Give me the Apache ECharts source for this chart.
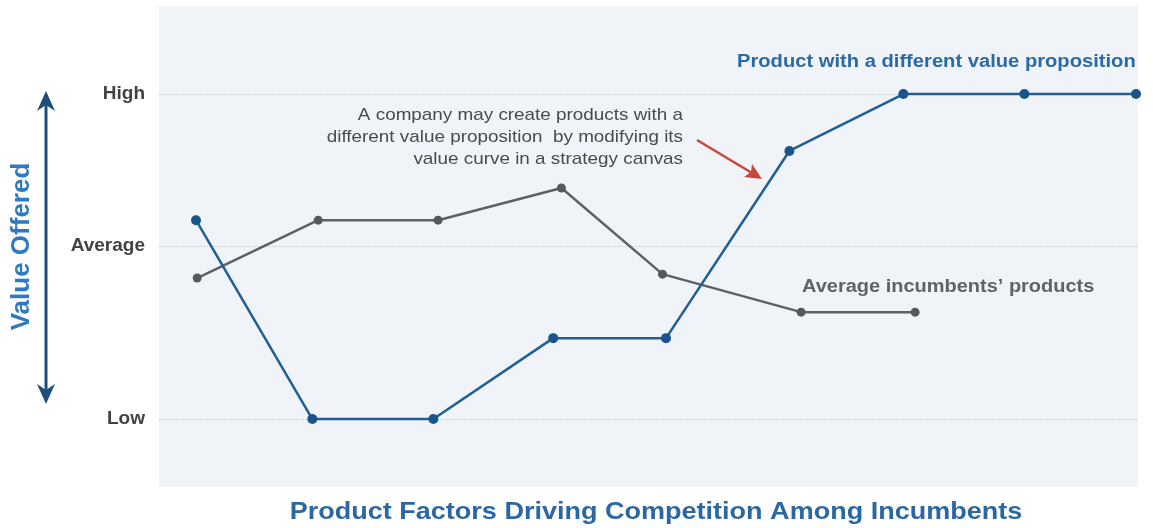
<!DOCTYPE html>
<html>
<head>
<meta charset="utf-8">
<script src="https://cdn.jsdelivr.net/npm/echarts@6/dist/echarts.min.js"></script>
<style>
html,body{margin:0;padding:0;background:#fff;}
#chart{width:1153px;height:528px;}
</style>
</head>
<body>
<div id="chart"></div>
<script>
// Value levels (Low = 0, High = 100)
const levelValues = [0, 53.2, 100];
const levelLabels = ['Low', 'Average', 'High'];

// Product with a different value proposition: factor position, value
const blueX = [0, 0.99, 2.02, 3.04, 4.0, 5.05, 6.02, 7.05, 8.0];
const blueY = [61.2, 0, 0, 24.9, 24.9, 82.5, 100, 100, 100];

// Average incumbents' products
const grayX = [0.01, 1.04, 2.06, 3.11, 3.97, 5.15, 6.12];
const grayY = [43.4, 61.2, 61.2, 71.1, 44.6, 32.9, 32.9];

const xTitle = 'Product Factors Driving Competition Among Incumbents';
const yTitle = 'Value Offered';
const blueLabel = 'Product with a different value proposition';
const grayLabel = 'Average incumbents\u2019 products';
const noteLines = ['A company may create products with a', 'different value proposition  by modifying its', 'value curve in a strategy canvas'];

const FONT = '"Liberation Sans", Arial, Helvetica, sans-serif';
const chart = echarts.init(document.getElementById('chart'));

const pairs = (xs, ys) => xs.map((x, i) => [x, ys[i]]);

const option = {
  animation: false,
  textStyle: { fontFamily: FONT },
  grid: {
    left: 159, right: 15, top: 6, bottom: 41,
    show: true, backgroundColor: '#f0f4f8', borderWidth: 0
  },
  xAxis: {
    type: 'value', min: -0.315, max: 8.017,
    axisLine: { show: false }, axisTick: { show: false },
    axisLabel: { show: false }, splitLine: { show: false }
  },
  yAxis: {
    type: 'value', min: -20.9, max: 127.1,
    axisLine: { show: false }, axisTick: { show: false },
    splitLine: { show: false },
    axisLabel: {
      customValues: levelValues,
      margin: 14,
      fontSize: 19, fontWeight: 'bold', color: '#424242', fontFamily: FONT,
      formatter: v => {
        const i = levelValues.findIndex(l => Math.abs(l - v) < 0.01);
        return i >= 0 ? levelLabels[i] : '';
      }
    },
    name: yTitle, nameLocation: 'middle', nameRotate: 90, nameGap: 124,
    nameTextStyle: { fontSize: 26, fontWeight: 'bold', color: '#2e7abf', fontFamily: FONT }
  },
  series: [
    {
      type: 'line', name: grayLabel,
      data: pairs(grayX, grayY),
      symbol: 'circle', symbolSize: 9,
      lineStyle: { color: '#5d6064', width: 2.5 },
      itemStyle: { color: '#55585c' },
      z: 3
    },
    {
      type: 'line', name: blueLabel,
      data: pairs(blueX, blueY),
      symbol: 'circle', symbolSize: 10, clip: false,
      lineStyle: { color: '#1f5f96', width: 2.5 },
      itemStyle: { color: '#17558c' },
      z: 4,
      markLine: {
        silent: true, symbol: 'none',
        label: { show: false },
        lineStyle: { type: 'dotted', color: '#c6cbd0', width: 1.2 },
        data: levelValues.map(v => ({ yAxis: v })),
        z: 1
      }
    }
  ],
  graphic: [
    // Double arrow beside the value axis title
    { type: 'line', shape: { x1: 46, y1: 104, x2: 46, y2: 391 }, style: { stroke: '#1d4f7c', lineWidth: 3 } },
    { type: 'polygon', shape: { points: [[46, 91], [37, 111], [46, 105], [55, 111]] }, style: { fill: '#1d4f7c' } },
    { type: 'polygon', shape: { points: [[46, 404], [37, 384], [46, 390], [55, 384]] }, style: { fill: '#1d4f7c' } },
    // Annotation texts
    { type: 'text', x: 737, y: 62, scaleX: 1.12,
      style: { text: blueLabel, align: 'left', verticalAlign: 'middle', fill: '#2b6aa5', font: 'bold 18px ' + FONT } },
    { type: 'text', x: 802, y: 287, scaleX: 1.11,
      style: { text: grayLabel, align: 'left', verticalAlign: 'middle', fill: '#5f6266', font: 'bold 18px ' + FONT } },
    { type: 'text', x: 683, y: 104, scaleX: 1.11,
      style: { text: noteLines.join('\n'), align: 'right', verticalAlign: 'top', lineHeight: 22, fill: '#4a4a4a', font: '17px ' + FONT } },
    // Axis title
    { type: 'text', x: 656, y: 512, scaleX: 1.126,
      style: { text: xTitle, align: 'center', verticalAlign: 'middle', fill: '#2b68a3', font: 'bold 24px ' + FONT } },
    // Red pointer arrow
    { type: 'line', shape: { x1: 697, y1: 140, x2: 752, y2: 173 }, style: { stroke: '#c8453c', lineWidth: 2.5 } },
    { type: 'polygon', shape: { points: [[762, 179], [744, 177], [751, 172], [752, 164]] }, style: { fill: '#c8453c' } }
  ]
};
chart.setOption(option);
</script>
</body>
</html>
